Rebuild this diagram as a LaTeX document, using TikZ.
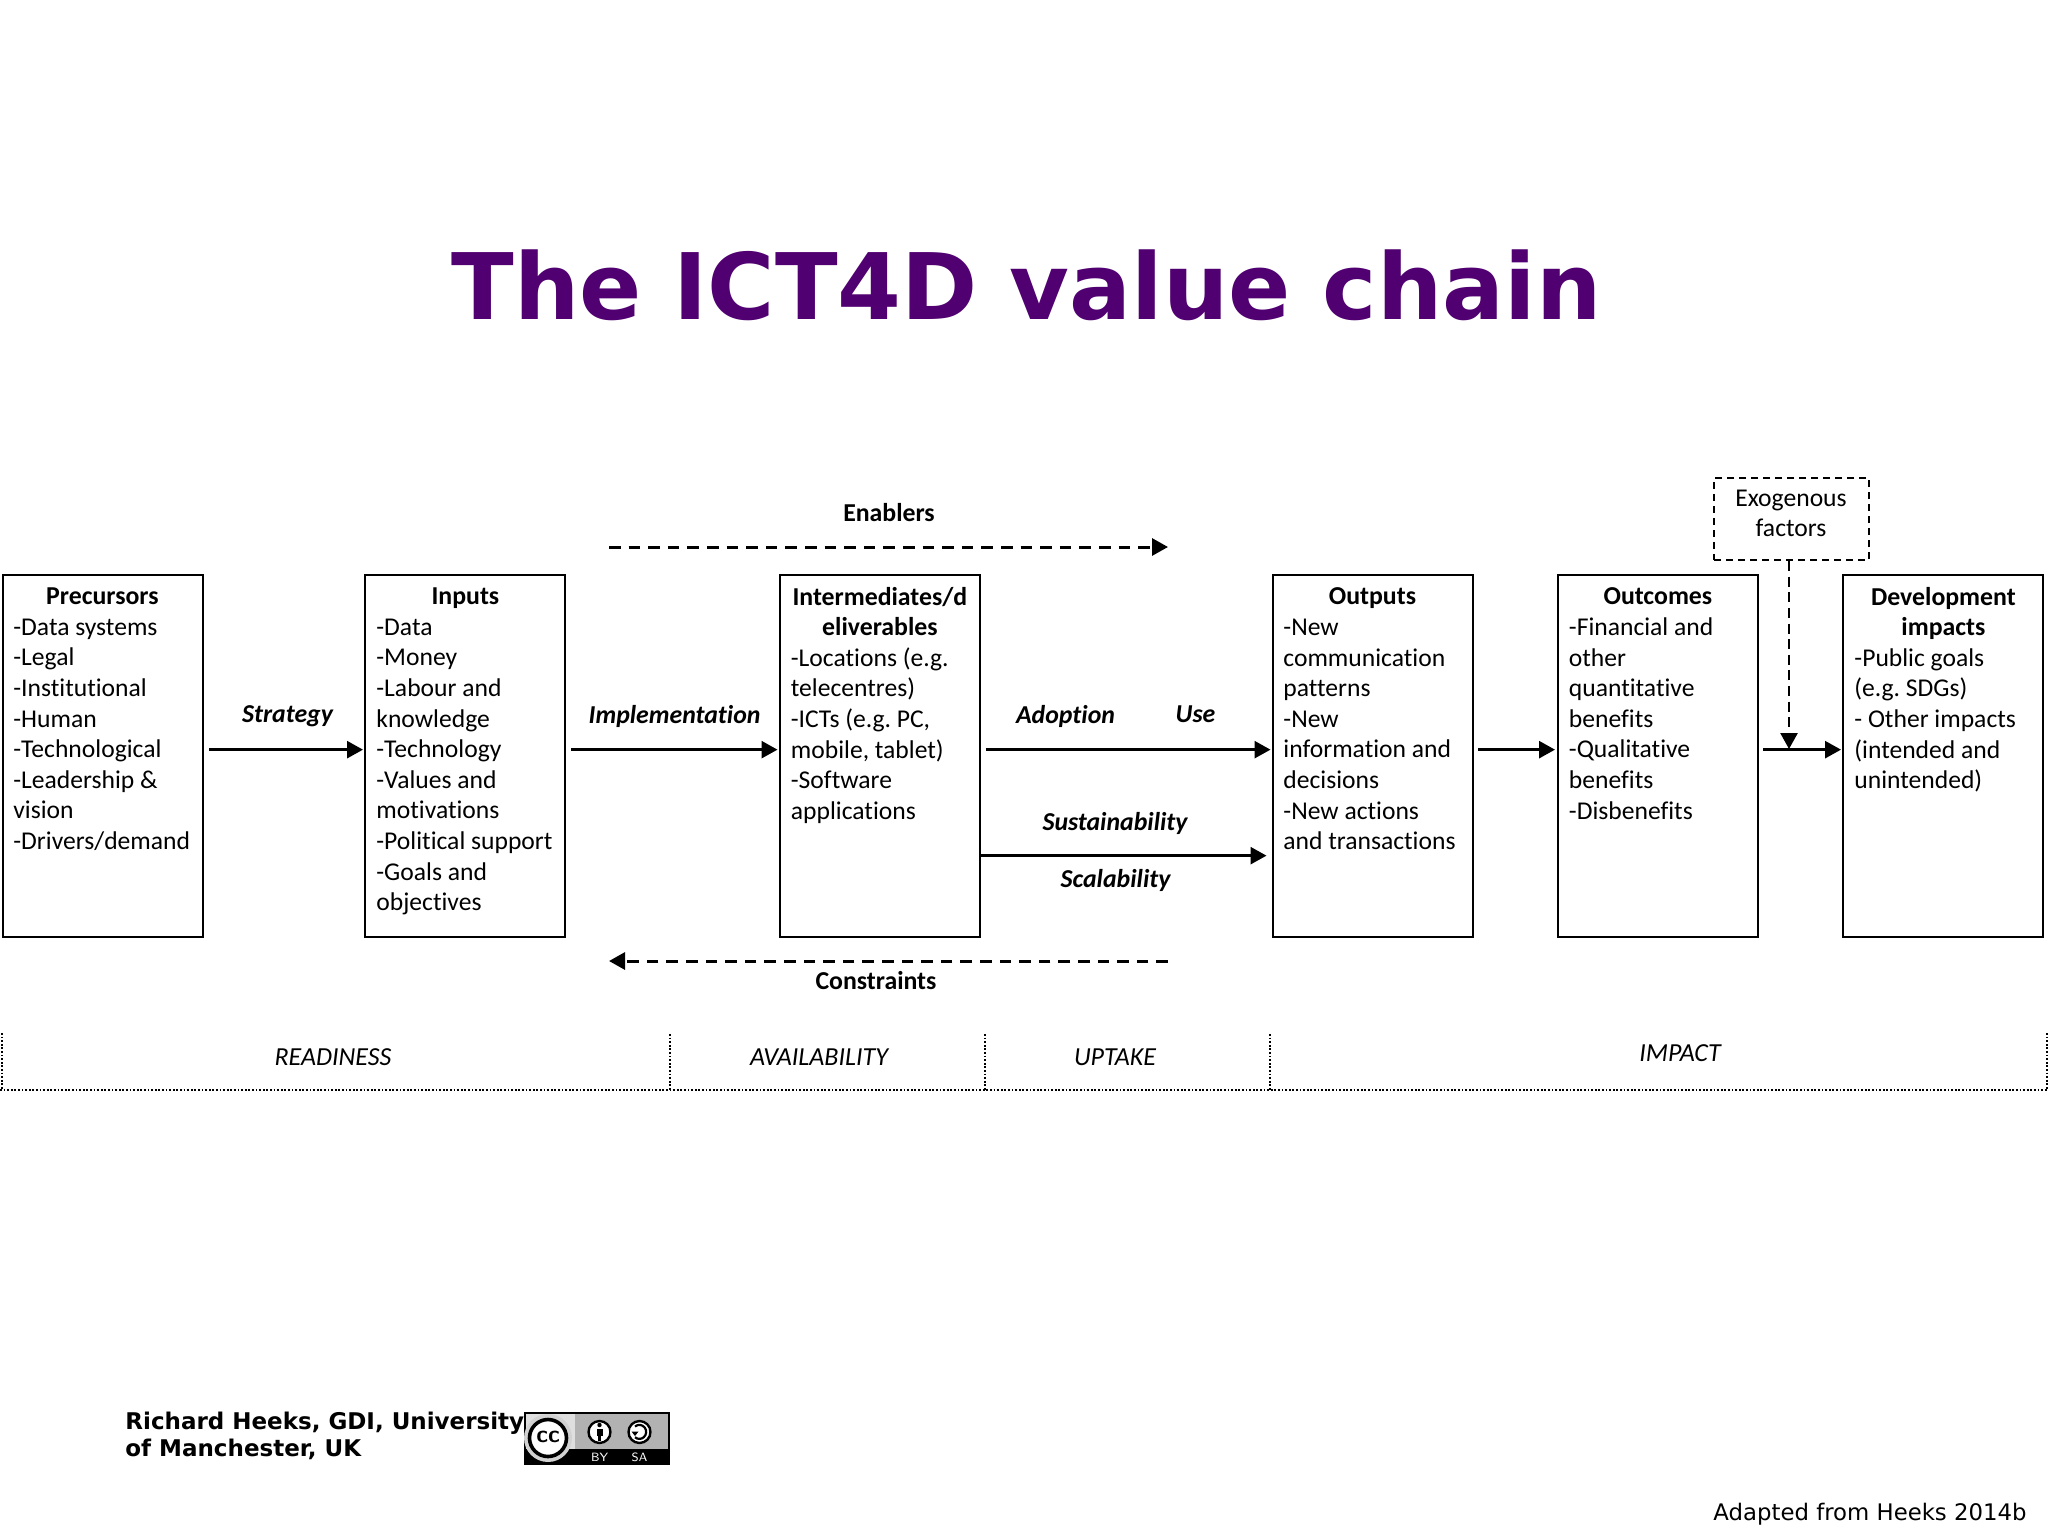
\documentclass[tikz,border=0pt]{standalone}
\usepackage{fontspec}
\setmainfont[Ligatures=NoCommon]{Carlito}
\newfontfamily\verd{DejaVu Sans}
\usetikzlibrary{arrows.meta}
\definecolor{titlepurple}{RGB}{80,0,112}
\newcommand{\hdr}[1]{\makebox[\linewidth][c]{\fontsize{12.9}{15.3}\selectfont\bfseries #1}}
\newcommand{\tightsp}{\spaceskip=.226em\relax}
\tikzset{
  px/.style={x=0.5pt,y=-0.5pt},
  boxtext/.style={anchor=north west,inner sep=0pt,align=left,text width=89pt,font=\fontsize{12.8}{15.3}\selectfont},
  frame/.style={draw=black,line width=1.15pt,anchor=north west,inner sep=0pt,minimum width=100pt,minimum height=181pt},
  arr/.style={line width=1.3pt,-{Triangle[length=8pt,width=8.5pt]}},
  dasharr/.style={line width=1.5pt,-{Triangle[length=8pt,width=8.5pt]},dash pattern=on 5.8pt off 4pt},
  vdasharr/.style={line width=1.3pt,-{Triangle[length=8pt,width=8.5pt]},dash pattern=on 5pt off 2.8pt},
  lab/.style={inner sep=0pt,font=\fontsize{12.9}{15.3}\selectfont\bfseries\itshape},
  plain/.style={inner sep=0pt,font=\fontsize{12.9}{15.3}\selectfont\bfseries},
  stage/.style={inner sep=0pt,font=\fontsize{13}{15.3}\selectfont\itshape},
  dots/.style={line width=0.85pt,dash pattern=on 0.9pt off 0.9pt},
}
\begin{document}
\begin{tikzpicture}[px]
\frenchspacing
\useasboundingbox (0,0) rectangle (2048,1536);
\fill[white] (0,0) rectangle (2048,1536);
% title
\node[inner sep=0pt,text=titlepurple,font=\verd\bfseries\fontsize{45.9}{56}\selectfont] (title) at (1026.5,285) {The ICT4D value chain};
% boxes
\node[frame] (prec) at (1.5,574) {};
\node[frame] (inp) at (364,574) {};
\node[frame] (inter) at (778.5,574) {};
\node[frame] (outp) at (1271.5,574) {};
\node[frame] (outc) at (1556.5,574) {};
\node[frame] (dev) at (1842,574) {};
\node[boxtext] (prect) at (13,587.5) {\tightsp\hdr{Precursors}\\-Data systems\\-Legal\\-Institutional\\-Human\\-Technological\\-Leadership \&\\vision\\-Drivers/demand};
\node[boxtext] (inpt) at (376,587.5) {\tightsp\hdr{Inputs}\\-Data\\-Money\\-Labour and\\knowledge\\-Technology\\-Values and\\motivations\\-Political support\\-Goals and\\objectives};
\node[boxtext] (intert) at (790.5,586.5) {\tightsp\hdr{Intermediates/d}\\\hdr{eliverables}\\-Locations (e.g.\\telecentres)\\-ICTs (e.g. PC,\\mobile, tablet)\\-Software\\applications};
\node[boxtext] (outpt) at (1283,587.5) {\tightsp\hdr{Outputs}\\-New\\communication\\patterns\\-New\\information and\\decisions\\-New actions\\and transactions};
\node[boxtext] (outct) at (1568.5,587.5) {\tightsp\hdr{Outcomes}\\-Financial and\\other\\quantitative\\benefits\\-Qualitative\\benefits\\-Disbenefits};
\node[boxtext] (devt) at (1854,586.5) {\tightsp\hdr{Development}\\\hdr{impacts}\\-Public goals\\(e.g. SDGs)\\- Other impacts\\(intended and\\unintended)};
% exogenous
\node[draw=black,line width=1.05pt,dash pattern=on 3.6pt off 2.4pt,anchor=north west,minimum width=77.5pt,minimum height=41pt,inner sep=0pt] (exo) at (1713,477) {};
\node[inner sep=0pt,align=center,font=\fontsize{12.8}{15.3}\selectfont] (exot) at (1791,513.5) {Exogenous\\factors};
% main connectors
\draw[arr] ([shift={(5.5,-6.5)}]prec.east) -- ([shift={(-1,-6.5)}]inp.west);
\draw[arr] ([shift={(5,-6.5)}]inp.east) -- ([shift={(-1,-6.5)}]inter.west);
\draw[arr] ([shift={(5,-6.5)}]inter.east) -- ([shift={(-1,-6.5)}]outp.west);
\draw[arr] ([shift={(0,99.5)}]inter.east) -- ([shift={(-5,99.5)}]outp.west);
\draw[arr] ([shift={(4.5,-6.5)}]outp.east) -- ([shift={(-1.5,-6.5)}]outc.west);
\draw[arr] ([shift={(4.5,-6.5)}]outc.east) -- ([shift={(-1,-6.5)}]dev.west);
\coordinate (exotip) at (1789,749);
\draw[vdasharr] (exo.south -| exotip) -- (exotip);
% enablers / constraints
\coordinate (enA) at (609,547);
\coordinate (enB) at (1168,547);
\coordinate (conA) at (1168,961);
\coordinate (conB) at (609,961);
\draw[dasharr] (enA) -- (enB);
\draw[dasharr] (conA) -- (conB);
\node[plain] (enablers) at (889,513) {Enablers};
\node[plain] (constraints) at (876,981) {Constraints};
% arrow labels
\node[lab] (strategy) at (287.5,716.5) {Strategy};
\node[lab] (impl) at (674.5,716.5) {Implementation};
\node[lab] (adoption) at (1065.5,716.5) {Adoption};
\node[lab] (use) at (1195.5,714) {Use};
\node[lab] (sust) at (1115,823.5) {Sustainability};
\node[lab] (scal) at (1115.5,880.5) {Scalability};
% stage bar
\coordinate (b0) at (2,1033);
\coordinate (b1) at (670,1034);
\coordinate (b2) at (985,1034);
\coordinate (b3) at (1270,1034);
\coordinate (b4) at (2047,1033);
\coordinate (baseL) at (0,1090);
\coordinate (baseR) at (2048,1090);
\draw[dots] (baseL) -- (baseR);
\foreach \b in {b0,b1,b2,b3,b4} \draw[dots] (\b) -- (\b |- baseL);
\node[stage] (readiness) at (333,1057) {READINESS};
\node[stage] (avail) at (819,1057) {AVAILABILITY};
\node[stage] (uptake) at (1115,1057) {UPTAKE};
\node[stage] (impact) at (1680,1053) {IMPACT};
% attribution
\node[anchor=north west,inner sep=0pt,align=left,font=\verd\bfseries\fontsize{11.5}{13.8}\selectfont] (credit) at (125,1411.5) {Richard Heeks, GDI, University\\of Manchester, UK};
\node[anchor=east,inner sep=0pt,font=\verd\fontsize{11.4}{14}\selectfont] (adapted) at (2027,1514.5) {Adapted from Heeks 2014b};
% cc badge
\fill[black] (524,1412) rectangle (670,1465);
\fill[gray!60] (526,1414) rectangle (668,1449);
\fill[gray!25] (526,1414) rectangle (575,1449);
\begin{scope}
\clip (524,1412) rectangle (670,1465);
\fill[gray!35] (548,1438) circle (24);
\end{scope}
\fill[white] (548,1438) circle (20);
\draw[black,line width=1.8pt] (548,1438) circle (18.5);
\node[inner sep=0pt,font=\sffamily\bfseries\fontsize{12}{12}\selectfont] (cc) at (548,1437) {cc};
\fill[white] (599.5,1432) circle (12);
\draw[black,line width=1.2pt] (599.5,1432) circle (11);
\fill[black] (599.5,1425) circle (2.2);
\fill[black] (596.5,1429) rectangle (602.5,1435.5);
\fill[black] (598,1435.5) rectangle (601,1441);
\fill[white] (639.5,1432) circle (12);
\draw[black,line width=1.2pt] (639.5,1432) circle (11);
\draw[black,line width=1.1pt] (635,1426.5) arc (-130:130:6.8 and 7);
\fill[black] (631.5,1431.5) -- (638.5,1431.5) -- (635,1436) -- cycle;
\node[inner sep=0pt,text=white,font=\sffamily\fontsize{6}{6}\selectfont] (by) at (599.5,1457) {BY};
\node[inner sep=0pt,text=white,font=\sffamily\fontsize{6}{6}\selectfont] (sa) at (639.5,1457) {SA};
\end{tikzpicture}
\end{document}
